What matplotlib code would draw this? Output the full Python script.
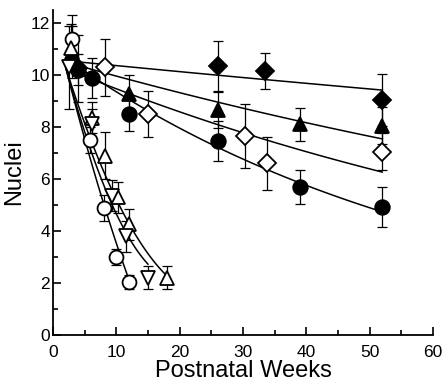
import numpy as np
import matplotlib
matplotlib.use("Agg")
import matplotlib.pyplot as plt

plt.rcParams['font.family'] = ['Liberation Sans', 'DejaVu Sans']

# ---- data (postnatal weeks, nuclei, error) ----
fd_x = [4, 26, 33.5, 52]          # filled diamond
fd_y = [10.25, 10.35, 10.15, 9.05]
fd_e = [1.3, 0.95, 0.7, 1.0]

ft_x = [3, 12, 26, 39, 52]        # filled triangle
ft_y = [10.9, 9.25, 8.65, 8.1, 8.05]
ft_e = [1.0, 0.75, 0.7, 0.63, 0.7]

od_x = [8.2, 15, 30.3, 33.8, 52]  # open diamond
od_y = [10.3, 8.5, 7.65, 6.6, 7.05]
od_e = [1.1, 0.87, 1.22, 1.02, 0.7]

fc_x = [4, 6.2, 12, 26, 39, 52]   # filled circle
fc_y = [10.2, 9.9, 8.5, 7.45, 5.7, 4.92]
fc_e = [0.6, 0.77, 0.64, 0.77, 0.65, 0.78]

oc_x = [3, 5.9, 8, 10, 12]        # open circle
oc_y = [11.4, 7.5, 4.9, 3.0, 2.05]
oc_e = [0.9, 0.5, 0.5, 0.3, 0.27]

ot_x = [2.8, 6.2, 8.2, 10.2, 12, 18]   # open triangle
ot_y = [11.05, 8.35, 6.9, 5.3, 4.25, 2.2]
ot_e = [0.9, 0.6, 0.9, 0.6, 0.6, 0.45]

oi_x = [2.6, 6.2, 9.4, 11.5, 15]       # open inverted triangle
oi_y = [10.3, 8.1, 5.35, 3.8, 2.2]
oi_e = [1.6, 0.6, 0.6, 0.6, 0.45]

# ---- fitted curves ----
# slow series: exponential decay y = A*exp(-k*x)
exp_A = [10.60, 10.64, 10.45, 11.0]
exp_k = [0.00227, 0.00662, 0.00984, 0.0162]
exp_x0 = [4, 3, 3, 4]
# fast series: quadratic y = a + b*(x-2) + c*(x-2)^2
quad_a = [10.3, 10.3, 10.3]
quad_b = [-0.959, -0.767, -0.900]
quad_c = [0.01416, 0.01657, 0.0244]
quad_x1 = [11.85, 18.15, 15.0]

fig = plt.figure(figsize=(4.45, 3.85), dpi=100)
ax = fig.add_axes([0.119, 0.130, 0.854, 0.844])

for A, k, x0 in zip(exp_A, exp_k, exp_x0):
    xs = np.linspace(x0, 52, 100)
    ax.plot(xs, A * np.exp(-k * xs), color='black', lw=1.1, zorder=2)
for a, b, c, x1 in zip(quad_a, quad_b, quad_c, quad_x1):
    xs = np.linspace(2, x1, 100)
    u = xs - 2
    ax.plot(xs, a + b * u + c * u**2, color='black', lw=1.1, zorder=2)

def series(x, y, e, marker, ms, filled):
    ax.errorbar(x, y, yerr=e, fmt='none', ecolor='black', elinewidth=0.9,
                capsize=3.5, capthick=0.9, zorder=3)
    ax.plot(x, y, linestyle='none', marker=marker, ms=ms,
            mfc='black' if filled else 'white', mec='black', mew=1.3, zorder=4)

series(fd_x, fd_y, fd_e, 'D', 9.5, True)
series(ft_x, ft_y, ft_e, '^', 10.5, True)
series(od_x, od_y, od_e, 'D', 9.5, False)
series(fc_x, fc_y, fc_e, 'o', 10.5, True)
series(oc_x, oc_y, oc_e, 'o', 10, False)
series(ot_x, ot_y, ot_e, '^', 10.5, False)
series(oi_x, oi_y, oi_e, 'v', 10.5, False)

ax.set_xlim(0, 60)
ax.set_ylim(0, 12.5)
ax.set_xticks(np.arange(0, 61, 10))
ax.set_xticks(np.arange(5, 60, 10), minor=True)
ax.set_yticks(np.arange(0, 13, 2))
ax.set_yticks(np.arange(1, 13, 2), minor=True)
ax.spines['top'].set_visible(False)
ax.spines['right'].set_visible(False)
for s in ('left', 'bottom'):
    ax.spines[s].set_linewidth(1.3)
ax.tick_params(which='major', direction='in', length=6, width=1.2, labelsize=12.5)
ax.tick_params(axis='x', which='major', pad=7)
ax.tick_params(axis='y', which='major', pad=2)
ax.tick_params(which='minor', direction='in', length=3.5, width=1.2)
ax.set_xlabel('Postnatal Weeks', fontsize=17, labelpad=0)
ax.set_ylabel('Nuclei', fontsize=17, labelpad=4)

fig.savefig('out.png', dpi=100)
